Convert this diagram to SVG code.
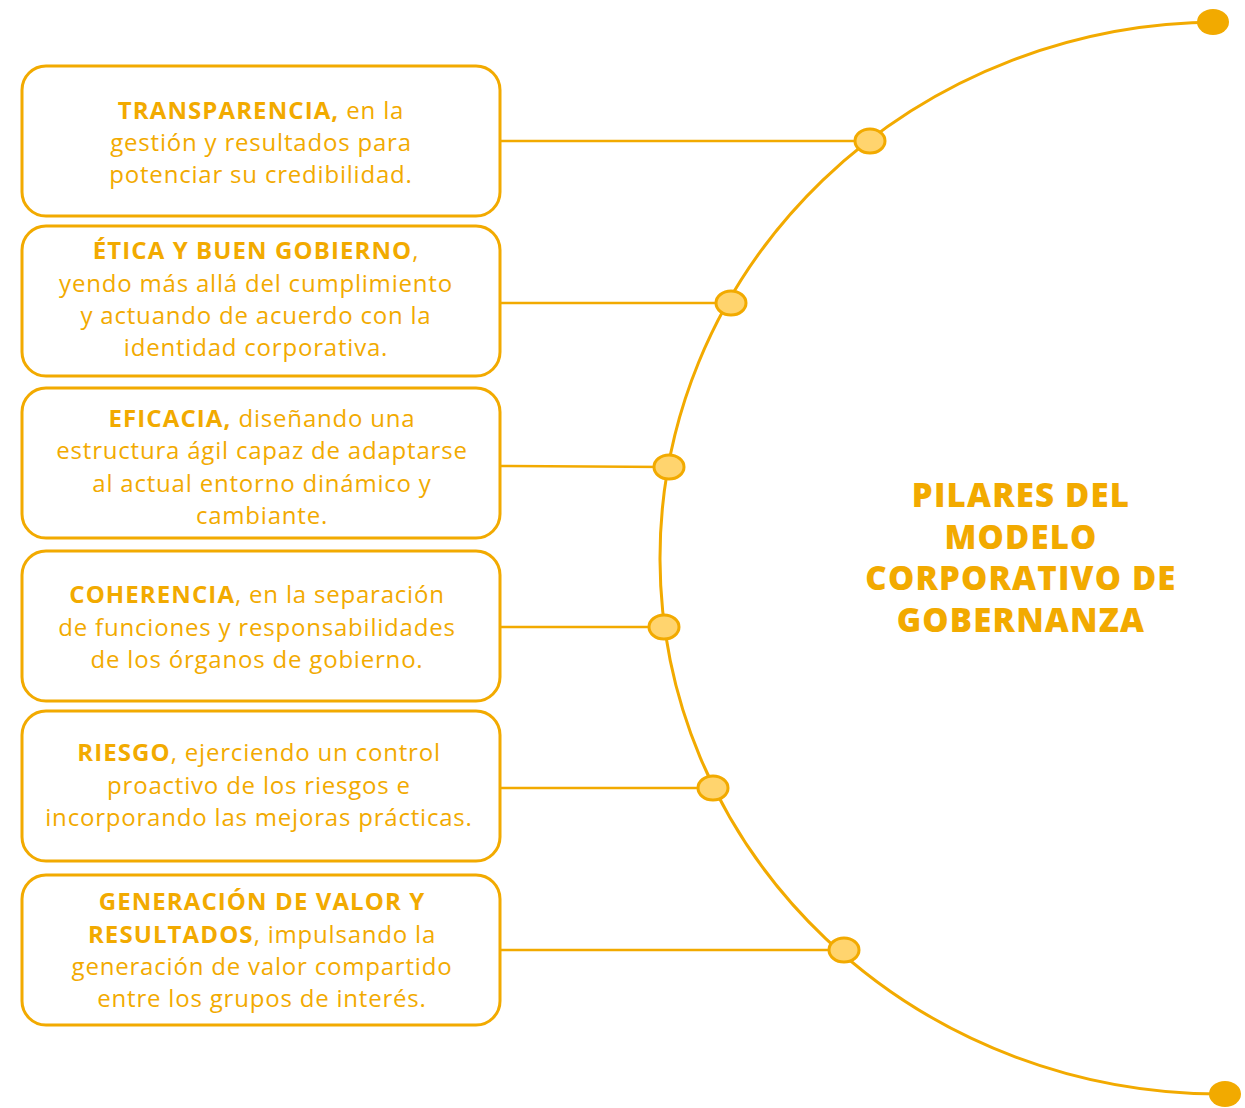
<svg xmlns="http://www.w3.org/2000/svg" width="1245" height="1108" viewBox="0 0 1245 1108">
<style>
.box{fill:#fff;stroke:#F2AA00;stroke-width:3}
.ln{stroke:#F2AA00;stroke-width:2.5;fill:none}
.arc{stroke:#F2AA00;stroke-width:3;fill:none}
.dot{fill:#FFD46E;stroke:#F2AA00;stroke-width:3}
.end{fill:#F2AA00}
.t{font-family:"Open Sans","Liberation Sans",sans-serif;font-size:24px;letter-spacing:0.8px;fill:#F2AA00;text-anchor:middle}
.t tspan.b{font-weight:700;letter-spacing:1.1px}
.title{font-family:"Open Sans","Liberation Sans",sans-serif;font-size:33px;font-weight:800;letter-spacing:1.2px;fill:#F2AA00;text-anchor:middle}
</style>
<rect width="1245" height="1108" fill="#fff"/>
<g id="connectors">
<path class="arc" d="M 1218 22 A 560 536 0 0 0 1222 1094"/>
<line class="ln" x1="500" y1="141" x2="870" y2="141"/>
<line class="ln" x1="500" y1="303" x2="731" y2="303"/>
<line class="ln" x1="500" y1="466" x2="669" y2="467"/>
<line class="ln" x1="500" y1="627" x2="664" y2="627"/>
<line class="ln" x1="500" y1="788" x2="713" y2="788"/>
<line class="ln" x1="500" y1="950" x2="844" y2="950"/>
</g>
<g id="ends">
<ellipse class="end" cx="1213" cy="22" rx="16" ry="13"/>
<ellipse class="end" cx="1225" cy="1094" rx="16" ry="13"/>
</g>
<g id="n1">
<rect class="box" x="22" y="66" width="478" height="150" rx="24"/>
<text class="t" x="261" y="119"><tspan class="b">TRANSPARENCIA,</tspan> en la</text>
<text class="t" x="261" y="151">gestión y resultados para</text>
<text class="t" x="261" y="183">potenciar su credibilidad.</text>
<ellipse class="dot" cx="870" cy="141" rx="15" ry="12"/>
</g>
<g id="n2">
<rect class="box" x="22" y="226" width="478" height="150" rx="24"/>
<text class="t" x="256" y="259"><tspan class="b">ÉTICA Y BUEN GOBIERNO</tspan>,</text>
<text class="t" x="256" y="292">yendo más allá del cumplimiento</text>
<text class="t" x="256" y="324">y actuando de acuerdo con la</text>
<text class="t" x="256" y="356">identidad corporativa.</text>
<ellipse class="dot" cx="731" cy="303" rx="15" ry="12"/>
</g>
<g id="n3">
<rect class="box" x="22" y="388" width="478" height="150" rx="24"/>
<text class="t" x="262" y="427"><tspan class="b">EFICACIA,</tspan> diseñando una</text>
<text class="t" x="262" y="459">estructura ágil capaz de adaptarse</text>
<text class="t" x="262" y="492">al actual entorno dinámico y</text>
<text class="t" x="262" y="524">cambiante.</text>
<ellipse class="dot" cx="669" cy="467" rx="15" ry="12"/>
</g>
<g id="n4">
<rect class="box" x="22" y="551" width="478" height="150" rx="24"/>
<text class="t" x="257" y="603"><tspan class="b">COHERENCIA</tspan>, en la separación</text>
<text class="t" x="257" y="636">de funciones y responsabilidades</text>
<text class="t" x="257" y="668">de los órganos de gobierno.</text>
<ellipse class="dot" cx="664" cy="627" rx="15" ry="12"/>
</g>
<g id="n5">
<rect class="box" x="22" y="711" width="478" height="150" rx="24"/>
<text class="t" x="259" y="761"><tspan class="b">RIESGO</tspan>, ejerciendo un control</text>
<text class="t" x="259" y="794">proactivo de los riesgos e</text>
<text class="t" x="259" y="826">incorporando las mejoras prácticas.</text>
<ellipse class="dot" cx="713" cy="788" rx="15" ry="12"/>
</g>
<g id="n6">
<rect class="box" x="22" y="875" width="478" height="150" rx="24"/>
<text class="t" x="262" y="910"><tspan class="b">GENERACIÓN DE VALOR Y</tspan></text>
<text class="t" x="262" y="943"><tspan class="b">RESULTADOS</tspan>, impulsando la</text>
<text class="t" x="262" y="975">generación de valor compartido</text>
<text class="t" x="262" y="1007">entre los grupos de interés.</text>
<ellipse class="dot" cx="844" cy="950" rx="15" ry="12"/>
</g>
<g id="title">
<text class="title" x="1021" y="507">PILARES DEL</text>
<text class="title" x="1021" y="549">MODELO</text>
<text class="title" x="1021" y="590">CORPORATIVO DE</text>
<text class="title" x="1021" y="632">GOBERNANZA</text>
</g>
</svg>
